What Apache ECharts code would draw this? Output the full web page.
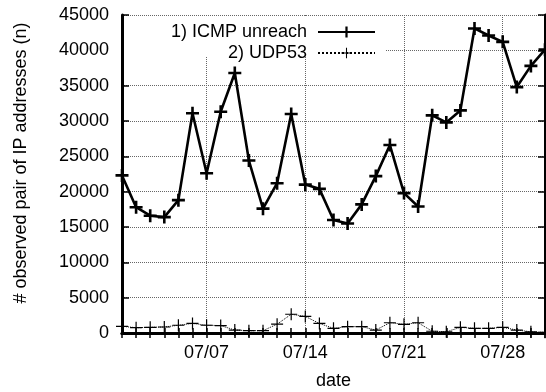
<!DOCTYPE html>
<html>
<head>
    <meta charset="utf-8">
    <title>icmp udp53</title>
    <script src="https://cdn.jsdelivr.net/npm/echarts@6/dist/echarts.min.js"></script>
</head>
<body style="margin:0;background:#fff;">

<div id="main" style="width: 546px;height:392px;"></div>

<script type="text/javascript">
    // days of july
    var days = ['07/01', '07/02', '07/03', '07/04', '07/05', '07/06', '07/07', '07/08',
        '07/09', '07/10', '07/11', '07/12', '07/13', '07/14', '07/15', '07/16',
        '07/17', '07/18', '07/19', '07/20', '07/21', '07/22', '07/23', '07/24',
        '07/25', '07/26', '07/27', '07/28', '07/29', '07/30', '07/31'];
    var labelDays = ['07/07', '07/14', '07/21', '07/28'];

    var icmp = [22300, 17800, 16600, 16400, 18800, 31100, 22600, 31300, 36800, 24400,
        17600, 21200, 31000, 21000, 20400, 16000, 15500, 18200, 22200, 26600,
        19800, 17900, 30800, 29800, 31500, 43100, 42100, 41200, 34800, 37800, 40100];
    var udp53 = [950, 750, 800, 850, 1100, 1350, 1100, 1050, 420, 330,
        330, 1250, 2650, 2350, 1350, 660, 900, 900, 420, 1450,
        1230, 1450, 250, 170, 800, 660, 660, 800, 420, 170, 100];

    var yTicks = [0, 45000, 5000]; // min, max, step

    var font = 'Liberation Sans';
    var fs = 18;
    var plus = 'path://M4,0H6V4H10V6H6V10H4V6H0V4H4Z';
    var plusThin = 'path://M4.5,0H5.5V4.5H10V5.5H5.5V10H4.5V5.5H0V4.5H4.5Z';

    function isLabelDay(i) {
        return labelDays.indexOf(days[i]) >= 0;
    }

    var myChart = echarts.init(document.getElementById('main'));

    var option = {
        animation: false,
        backgroundColor: '#fff',
        textStyle: {fontFamily: font},
        grid: {left: 122, right: 1, top: 15, bottom: 59, outerBoundsMode: 'none'},
        graphic: [{
            type: 'rect',
            shape: {x: 124, y: 17, width: 262, height: 40},
            style: {fill: '#fff'},
            z: 1
        }],
        legend: [{
            data: ['1) ICMP unreach'],
            right: 165, top: 18,
            align: 'right',
            itemWidth: 57, itemHeight: 14,
            textStyle: {fontFamily: font, fontSize: fs, color: '#000', padding: [0, 6, 0, 0]},
            z: 5
        }, {
            data: ['2) UDP53'],
            right: 165, top: 39,
            align: 'right',
            itemWidth: 57, itemHeight: 13,
            textStyle: {fontFamily: font, fontSize: fs, color: '#000', padding: [0, 6, 0, 0]},
            z: 5
        }],
        xAxis: [{
            type: 'category',
            data: days,
            boundaryGap: false,
            name: 'date',
            nameLocation: 'middle',
            nameGap: 39,
            nameTextStyle: {fontFamily: font, fontSize: fs, color: '#000'},
            axisLine: {lineStyle: {color: '#000', width: 3}},
            axisTick: {
                inside: true, length: 5, interval: 0,
                lineStyle: {color: '#000', width: 1.5}
            },
            axisLabel: {
                interval: function (i) { return isLabelDay(i); },
                margin: 11,
                fontFamily: font, fontSize: fs, color: '#000'
            },
            splitLine: {
                show: true,
                interval: function (i) { return isLabelDay(i); },
                lineStyle: {color: '#666', type: 'dotted', width: 1}
            }
        }, {
            type: 'category',
            data: days,
            boundaryGap: false,
            position: 'top',
            axisLine: {lineStyle: {color: '#000', width: 3}},
            axisTick: {
                inside: true, length: 5, interval: 0,
                lineStyle: {color: '#000', width: 1.5}
            },
            axisLabel: {show: false},
            splitLine: {show: false}
        }],
        yAxis: [{
            type: 'value',
            min: yTicks[0], max: yTicks[1], interval: yTicks[2],
            name: '# observed pair of IP addresses (n)',
            nameLocation: 'middle',
            nameGap: 92,
            nameTextStyle: {fontFamily: font, fontSize: fs, color: '#000', padding: [0, 0, 0, 22]},
            axisLine: {show: true, lineStyle: {color: '#000', width: 3}},
            axisTick: {show: true, inside: true, length: 7, lineStyle: {color: '#000', width: 1.5}},
            axisLabel: {
                margin: 13, fontFamily: font, fontSize: fs, color: '#000',
                formatter: function (v) { return String(v); }
            },
            splitLine: {show: true, lineStyle: {color: '#666', type: 'dotted', width: 1}}
        }, {
            type: 'value',
            position: 'right',
            min: yTicks[0], max: yTicks[1], interval: yTicks[2],
            axisLine: {show: true, lineStyle: {color: '#000', width: 3}},
            axisTick: {show: true, inside: true, length: 7, lineStyle: {color: '#000', width: 1.5}},
            axisLabel: {show: false},
            splitLine: {show: false}
        }],
        series: [{
            name: '1) ICMP unreach',
            type: 'line',
            data: icmp,
            symbol: plus,
            symbolSize: 13,
            showAllSymbol: true,
            itemStyle: {color: '#000'},
            lineStyle: {color: '#000', width: 2.6},
            z: 4
        }, {
            name: '2) UDP53',
            type: 'line',
            data: udp53,
            symbol: plusThin,
            symbolSize: 12,
            showAllSymbol: true,
            itemStyle: {color: '#000'},
            lineStyle: {color: '#000', width: 1, type: 'dotted'},
            z: 3
        }]
    };

    myChart.setOption(option);
</script>
</body>
</html>
